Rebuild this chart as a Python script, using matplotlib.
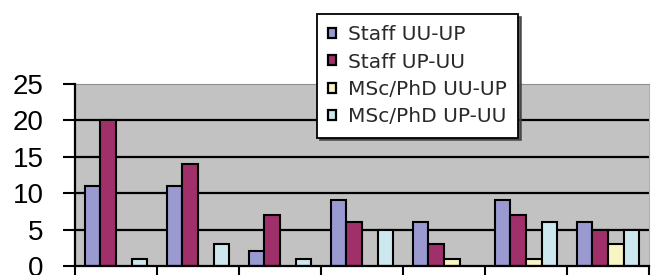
import numpy as np
import matplotlib.pyplot as plt
from matplotlib.patches import Patch

plt.rcParams['font.family'] = ['Liberation Sans', 'DejaVu Sans']

# data
series = ["Staff UU-UP", "Staff UP-UU", "MSc/PhD UU-UP", "MSc/PhD UP-UU"]
staff_uu_up = [11, 11, 2, 9, 6, 9, 6]
staff_up_uu = [20, 14, 7, 6, 3, 7, 5]
msc_uu_up = [0, 0, 0, 0, 1, 1, 3]
msc_up_uu = [1, 3, 1, 5, 0, 6, 5]
colors = ["#9a9ad0", "#a0306a", "#f8f4c4", "#cce8ee"]
yticks = [0, 5, 10, 15, 20, 25]

fig = plt.figure(figsize=(6.51, 2.75), dpi=100)
ax = fig.add_axes([75/651, 9/275, 574/651, 182/275])
ax.set_facecolor("#c2c2c2")

x = np.arange(len(staff_uu_up))
w = 0.19
for k, (vals, c) in enumerate(zip([staff_uu_up, staff_up_uu, msc_uu_up, msc_up_uu], colors)):
    v = np.array(vals)
    b = ax.bar(x + (k - 1.5) * w, v, w, color=c, edgecolor="black",
               linewidth=1.5, zorder=3)
    for rect, val in zip(b, v):
        if val == 0:
            rect.set_visible(False)

ax.set_xlim(-0.5, len(x) - 0.5)
ax.set_ylim(0, 25)
ax.set_yticks(yticks)
ax.tick_params(axis='y', labelsize=20, length=9, width=1.5, pad=13.5)
ax.set_xticks(np.arange(len(x) + 1) - 0.5)
ax.set_xticklabels([])
ax.tick_params(axis='x', length=10, width=1.5, direction='out')
for yv in yticks[1:-1]:
    ax.axhline(yv, color="black", lw=1.6, zorder=1)

for s in ["left", "bottom"]:
    ax.spines[s].set_linewidth(1.6)
    ax.spines[s].set_zorder(4)
ax.spines["top"].set_color("#909090")
ax.spines["right"].set_color("#b0b0b0")

handles = [Patch(facecolor=c, edgecolor="black", linewidth=1.6) for c in colors]
leg = fig.legend(handles=handles, labels=series, loc="upper left",
                 bbox_to_anchor=(317/651, 1 - 14/275), frameon=True,
                 fancybox=False, shadow={'color': '#404040', 'alpha': 0.8},
                 prop={'family': 'DejaVu Sans', 'size': 14.5},
                 handlelength=0.4, handleheight=0.4, handletextpad=0.6,
                 labelspacing=0.42, borderpad=0.55, borderaxespad=0)
leg.get_frame().set_edgecolor("black")
leg.get_frame().set_linewidth(1.3)
for t in leg.get_texts():
    t.set_color("#2a2a2a")

fig.savefig("out.png", dpi=100)
